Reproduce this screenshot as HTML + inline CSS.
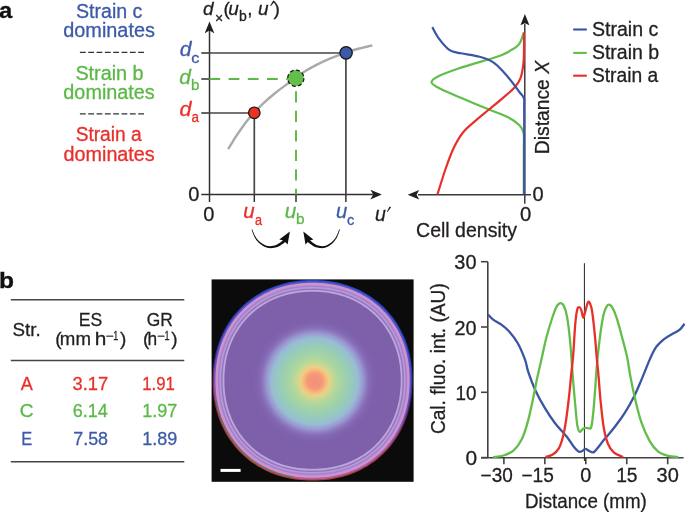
<!DOCTYPE html>
<html><head><meta charset="utf-8"><style>
html,body{margin:0;padding:0;background:#fff;}
svg{display:block;will-change:transform;}
text{font-family:"Liberation Sans",sans-serif;stroke-width:0.3px;}
</style></head><body>
<svg width="685" height="512" viewBox="0 0 685 512">
<rect width="685" height="512" fill="#fff"/>
<text x="-1.10" y="17.69" font-size="22" fill="#111" stroke="#111" font-weight="bold" textLength="13.25" lengthAdjust="spacingAndGlyphs">a</text>
<text x="75.91" y="17.81" font-size="19.5" fill="#3d5aa9" stroke="#3d5aa9" textLength="66.51" lengthAdjust="spacingAndGlyphs">Strain c</text>
<text x="63.27" y="36.71" font-size="19.5" fill="#3d5aa9" stroke="#3d5aa9" textLength="91.65" lengthAdjust="spacingAndGlyphs">dominates</text>
<text x="75.40" y="79.61" font-size="19.5" fill="#5cb847" stroke="#5cb847" textLength="68.23" lengthAdjust="spacingAndGlyphs">Strain b</text>
<text x="63.37" y="99.01" font-size="19.5" fill="#5cb847" stroke="#5cb847" textLength="91.35" lengthAdjust="spacingAndGlyphs">dominates</text>
<text x="75.63" y="141.41" font-size="19.5" fill="#e8302a" stroke="#e8302a" textLength="66.07" lengthAdjust="spacingAndGlyphs">Strain a</text>
<text x="63.57" y="160.81" font-size="19.5" fill="#e8302a" stroke="#e8302a" textLength="91.14" lengthAdjust="spacingAndGlyphs">dominates</text>
<line x1="79.9" y1="52.4" x2="144.2" y2="52.4" stroke="#333" stroke-width="1.4" stroke-dasharray="5.8 2.53"/>
<line x1="79.9" y1="113.9" x2="144.2" y2="113.9" stroke="#333" stroke-width="1.4" stroke-dasharray="5.8 2.53"/>
<path d="M228.20,149.20 C229.37,147.27 232.85,141.27 235.20,137.60 C237.55,133.93 240.12,130.27 242.30,127.20 C244.48,124.13 246.28,121.63 248.30,119.20 C250.32,116.77 251.95,115.20 254.40,112.60 C256.85,110.00 259.73,106.70 263.00,103.60 C266.27,100.50 270.33,97.00 274.00,94.00 C277.67,91.00 281.37,88.23 285.00,85.60 C288.63,82.97 292.72,80.43 295.80,78.20 C298.88,75.97 299.88,74.50 303.50,72.20 C307.12,69.90 313.02,66.70 317.50,64.40 C321.98,62.10 326.80,59.95 330.40,58.40 C334.00,56.85 336.50,56.03 339.10,55.10 C341.70,54.17 343.57,53.65 346.00,52.80 C348.43,51.95 350.85,50.87 353.70,50.00 C356.55,49.13 359.98,48.38 363.10,47.60 C366.22,46.82 370.85,45.68 372.40,45.30" fill="none" stroke="#a9a9a9" stroke-width="2.4"/>
<line x1="209.5" y1="194.6" x2="209.5" y2="30" stroke="#333031" stroke-width="1.5" />
<path d="M209.5,21.5 L214.3,33.3 L209.5,30.6 L204.7,33.3 Z" fill="#231f20"/>
<line x1="201.3" y1="194.6" x2="373" y2="194.6" stroke="#333031" stroke-width="1.5" />
<path d="M381.8,194.6 L370.4,189.7 L373.2,194.6 L370.4,199.5 Z" fill="#231f20"/>
<line x1="201.3" y1="53.0" x2="209.5" y2="53.0" stroke="#474545" stroke-width="1.7" />
<line x1="201.3" y1="113.0" x2="209.5" y2="113.0" stroke="#474545" stroke-width="1.7" />
<line x1="201.3" y1="79.0" x2="209.5" y2="79.0" stroke="#474545" stroke-width="1.7" />
<line x1="209.5" y1="194.6" x2="209.5" y2="202" stroke="#333031" stroke-width="1.5" />
<line x1="254.3" y1="194.6" x2="254.3" y2="202" stroke="#333031" stroke-width="1.5" />
<line x1="296" y1="194.6" x2="296" y2="202" stroke="#333031" stroke-width="1.5" />
<line x1="345.9" y1="194.6" x2="345.9" y2="202" stroke="#333031" stroke-width="1.5" />
<line x1="209.5" y1="53.0" x2="346" y2="53.0" stroke="#474545" stroke-width="1.7" />
<line x1="345.9" y1="52.9" x2="345.9" y2="194.6" stroke="#474545" stroke-width="1.7" />
<line x1="209.5" y1="113.0" x2="254.4" y2="113.0" stroke="#474545" stroke-width="1.7" />
<line x1="254.3" y1="112.8" x2="254.3" y2="194.6" stroke="#474545" stroke-width="1.7" />
<line x1="209.4" y1="79.0" x2="290" y2="79.0" stroke="#5cb847" stroke-width="1.9" stroke-dasharray="10.8 8.4"/>
<line x1="296" y1="91.3" x2="296" y2="194.6" stroke="#5cb847" stroke-width="1.9" stroke-dasharray="11.2 8.3"/>
<circle cx="346.1" cy="52.8" r="6.2" fill="#3d5aa9" stroke="#1a1a1a" stroke-width="1.3"/>
<circle cx="254.3" cy="112.8" r="5.75" fill="#eb3223" stroke="#1a1a1a" stroke-width="1.3"/>
<circle cx="295.8" cy="78.2" r="8.1" fill="#64be4b" stroke="#1a1a1a" stroke-width="1.3" stroke-dasharray="3.9 2.46"/>
<text x="179.79" y="56.40" font-size="19.5" fill="#3d5aa9" stroke="#3d5aa9" font-style="italic" textLength="11.75" lengthAdjust="spacingAndGlyphs">d</text>
<text x="191.31" y="62.76" font-size="14" fill="#3d5aa9" stroke="#3d5aa9" textLength="8.12" lengthAdjust="spacingAndGlyphs">c</text>
<text x="179.19" y="83.60" font-size="19.5" fill="#5cb847" stroke="#5cb847" font-style="italic" textLength="11.65" lengthAdjust="spacingAndGlyphs">d</text>
<text x="191.13" y="89.76" font-size="14" fill="#5cb847" stroke="#5cb847" textLength="8.41" lengthAdjust="spacingAndGlyphs">b</text>
<text x="179.58" y="115.80" font-size="19.5" fill="#e8302a" stroke="#e8302a" font-style="italic" textLength="11.96" lengthAdjust="spacingAndGlyphs">d</text>
<text x="191.43" y="122.16" font-size="14" fill="#e8302a" stroke="#e8302a" textLength="7.47" lengthAdjust="spacingAndGlyphs">a</text>
<text x="188.32" y="201.41" font-size="19.5" fill="#231f20" stroke="#231f20" textLength="11.17" lengthAdjust="spacingAndGlyphs">0</text>
<text x="202.9" y="14.6" font-size="19" fill="#231f20" stroke="#231f20" font-style="italic" >d</text>
<text x="215.1" y="22.5" font-size="14" fill="#231f20" stroke="#231f20" >×</text>
<text x="223.6" y="14.5" font-size="19" fill="#231f20" stroke="#231f20" >(</text>
<text x="228.2" y="14.6" font-size="19" fill="#231f20" stroke="#231f20" font-style="italic" >u</text>
<text x="239" y="21.2" font-size="14" fill="#231f20" stroke="#231f20" >b</text>
<text x="247.2" y="14.6" font-size="19" fill="#231f20" stroke="#231f20" >,</text>
<text x="257.9" y="14.6" font-size="19" fill="#231f20" stroke="#231f20" font-style="italic" >u</text>
<path d="M273.2,0.5 L274.9,1.2 L271.0,6.1 L270.2,5.8 Z" fill="#231f20"/>
<text x="273.6" y="14.6" font-size="19" fill="#231f20" stroke="#231f20" >)</text>
<text x="203.32" y="220.71" font-size="19.5" fill="#231f20" stroke="#231f20" textLength="11.17" lengthAdjust="spacingAndGlyphs">0</text>
<text x="243.34" y="217.92" font-size="19.5" fill="#e8302a" stroke="#e8302a" font-style="italic" textLength="11.37" lengthAdjust="spacingAndGlyphs">u</text>
<text x="254.96" y="224.76" font-size="14" fill="#e8302a" stroke="#e8302a" textLength="7.04" lengthAdjust="spacingAndGlyphs">a</text>
<text x="284.88" y="217.82" font-size="19.5" fill="#5cb847" stroke="#5cb847" font-style="italic" textLength="11.54" lengthAdjust="spacingAndGlyphs">u</text>
<text x="296.11" y="224.46" font-size="14" fill="#5cb847" stroke="#5cb847" textLength="8.53" lengthAdjust="spacingAndGlyphs">b</text>
<text x="336.05" y="217.92" font-size="19.5" fill="#3d5aa9" stroke="#3d5aa9" font-style="italic" textLength="11.25" lengthAdjust="spacingAndGlyphs">u</text>
<text x="347.08" y="224.76" font-size="14" fill="#3d5aa9" stroke="#3d5aa9" textLength="7.31" lengthAdjust="spacingAndGlyphs">c</text>
<text x="374.88" y="220.62" font-size="19.5" fill="#231f20" stroke="#231f20" font-style="italic">u</text>
<path d="M389.5,206.6 L391.1,207.3 L387.6,212.0 L386.9,211.7 Z" fill="#231f20"/>
<path d="M251.58,229.53 L251.72,229.93 L251.90,230.43 L252.10,231.03 L252.34,231.71 L252.60,232.44 L252.88,233.21 L253.18,234.01 L253.49,234.80 L253.81,235.58 L254.15,236.34 L254.49,237.04 L254.83,237.68 L255.18,238.26 L255.53,238.81 L255.88,239.35 L256.25,239.88 L256.63,240.38 L257.02,240.87 L257.43,241.35 L257.86,241.82 L258.30,242.27 L258.76,242.72 L259.24,243.15 L259.75,243.58 L260.27,244.00 L260.83,244.42 L261.40,244.84 L262.00,245.26 L262.62,245.66 L263.26,246.05 L263.91,246.42 L264.57,246.77 L265.24,247.08 L265.92,247.37 L266.61,247.61 L267.30,247.80 L268.00,247.95 L268.72,248.05 L269.45,248.11 L270.19,248.14 L270.92,248.13 L271.65,248.09 L272.37,248.03 L273.07,247.95 L273.76,247.85 L274.43,247.74 L275.07,247.61 L275.68,247.48 L276.29,247.33 L276.88,247.14 L277.44,246.93 L277.99,246.71 L278.51,246.46 L279.01,246.20 L279.50,245.94 L279.96,245.67 L280.42,245.39 L280.86,245.12 L281.29,244.86 L281.73,244.59 L282.19,244.29 L282.67,243.96 L283.15,243.61 L283.62,243.25 L284.08,242.89 L284.52,242.53 L284.94,242.19 L285.33,241.86 L285.68,241.57 L285.99,241.31 L286.26,241.10 L286.47,240.94 L284.53,238.66 L284.32,238.86 L284.05,239.11 L283.75,239.40 L283.42,239.71 L283.06,240.05 L282.68,240.41 L282.28,240.77 L281.88,241.13 L281.47,241.48 L281.06,241.82 L280.66,242.13 L280.27,242.41 L279.87,242.70 L279.45,242.99 L279.04,243.28 L278.64,243.56 L278.23,243.83 L277.81,244.10 L277.40,244.34 L276.97,244.58 L276.53,244.79 L276.08,244.99 L275.61,245.16 L275.12,245.32 L274.57,245.47 L273.99,245.61 L273.38,245.75 L272.76,245.87 L272.11,245.97 L271.46,246.06 L270.81,246.12 L270.16,246.16 L269.52,246.17 L268.89,246.15 L268.29,246.09 L267.70,246.00 L267.12,245.86 L266.52,245.68 L265.91,245.46 L265.30,245.21 L264.68,244.92 L264.07,244.61 L263.46,244.27 L262.86,243.92 L262.28,243.55 L261.72,243.18 L261.17,242.80 L260.65,242.42 L260.16,242.05 L259.69,241.67 L259.24,241.28 L258.81,240.88 L258.39,240.46 L257.99,240.04 L257.60,239.60 L257.21,239.14 L256.84,238.66 L256.48,238.17 L256.12,237.65 L255.77,237.12 L255.42,236.54 L255.07,235.89 L254.71,235.18 L254.37,234.43 L254.03,233.66 L253.71,232.89 L253.40,232.13 L253.11,231.42 L252.85,230.75 L252.61,230.16 L252.40,229.66 L252.22,229.27 Z" fill="#111"/>
<path d="M289.9,231.6 L279.3,239.5 L283.6,240.6 L287.6,244.5 Z" fill="#111"/>
<path d="M339.26,229.27 L339.09,229.67 L338.89,230.17 L338.67,230.76 L338.41,231.42 L338.14,232.14 L337.84,232.89 L337.53,233.66 L337.21,234.43 L336.88,235.19 L336.54,235.90 L336.21,236.55 L335.87,237.13 L335.54,237.66 L335.19,238.18 L334.84,238.67 L334.49,239.15 L334.12,239.61 L333.75,240.05 L333.36,240.48 L332.96,240.89 L332.55,241.29 L332.12,241.68 L331.67,242.06 L331.20,242.43 L330.70,242.81 L330.18,243.19 L329.64,243.56 L329.09,243.93 L328.52,244.28 L327.94,244.62 L327.35,244.93 L326.76,245.22 L326.18,245.47 L325.60,245.69 L325.03,245.87 L324.48,246.00 L323.93,246.09 L323.35,246.15 L322.76,246.17 L322.15,246.16 L321.53,246.12 L320.91,246.06 L320.30,245.97 L319.69,245.87 L319.09,245.75 L318.51,245.61 L317.96,245.47 L317.44,245.32 L316.97,245.17 L316.53,244.99 L316.10,244.80 L315.69,244.58 L315.29,244.35 L314.89,244.11 L314.50,243.85 L314.11,243.58 L313.72,243.30 L313.33,243.01 L312.94,242.71 L312.55,242.43 L312.18,242.14 L311.80,241.83 L311.42,241.50 L311.02,241.15 L310.64,240.79 L310.26,240.43 L309.90,240.07 L309.55,239.74 L309.24,239.42 L308.95,239.13 L308.70,238.88 L308.50,238.68 L306.51,240.92 L306.71,241.08 L306.96,241.29 L307.26,241.55 L307.60,241.84 L307.97,242.17 L308.37,242.51 L308.80,242.87 L309.24,243.23 L309.69,243.59 L310.14,243.94 L310.60,244.27 L311.05,244.57 L311.47,244.84 L311.88,245.11 L312.30,245.38 L312.74,245.65 L313.19,245.93 L313.65,246.19 L314.13,246.45 L314.64,246.70 L315.16,246.93 L315.70,247.14 L316.27,247.32 L316.85,247.48 L317.44,247.61 L318.06,247.73 L318.69,247.85 L319.35,247.95 L320.03,248.03 L320.72,248.09 L321.42,248.13 L322.13,248.14 L322.83,248.11 L323.53,248.05 L324.22,247.95 L324.90,247.80 L325.57,247.60 L326.23,247.36 L326.88,247.08 L327.52,246.76 L328.16,246.42 L328.78,246.05 L329.38,245.66 L329.98,245.25 L330.55,244.83 L331.10,244.41 L331.63,243.99 L332.13,243.57 L332.61,243.14 L333.07,242.71 L333.51,242.26 L333.93,241.81 L334.34,241.34 L334.73,240.86 L335.10,240.37 L335.46,239.86 L335.81,239.34 L336.15,238.80 L336.49,238.25 L336.81,237.67 L337.14,237.03 L337.47,236.33 L337.78,235.58 L338.09,234.79 L338.39,234.00 L338.68,233.21 L338.94,232.44 L339.19,231.70 L339.41,231.03 L339.61,230.43 L339.78,229.92 L339.92,229.53 Z" fill="#111"/>
<path d="M303.3,231.6 L313.4,239.5 L309.3,240.6 L305.5,244.5 Z" fill="#111"/>
<line x1="524.8" y1="203.7" x2="524.8" y2="24" stroke="#231f20" stroke-width="1.3" />
<path d="M524.9,14.0 L529.4,25.2 L524.9,23.2 L520.4,25.2 Z" fill="#231f20"/>
<line x1="531" y1="194.8" x2="418" y2="194.8" stroke="#3a3a3a" stroke-width="1.4" />
<path d="M407.7,194.8 L419.2,190 L416.6,194.8 L419.2,199.6 Z" fill="#231f20"/>
<path d="M523.60,33.00 C522.72,35.02 521.73,41.52 518.30,45.10 C514.87,48.68 507.88,52.15 503.00,54.50 C498.12,56.85 496.42,56.87 489.00,59.20 C481.58,61.53 467.08,65.58 458.50,68.50 C449.92,71.42 441.98,74.35 437.50,76.70 C433.02,79.05 431.22,80.63 431.60,82.60 C431.98,84.57 434.92,85.97 439.80,88.50 C444.68,91.03 452.70,94.30 460.90,97.80 C469.10,101.30 481.20,106.30 489.00,109.50 C496.80,112.70 502.63,114.38 507.70,117.00 C512.77,119.62 516.75,122.53 519.40,125.20 C522.05,127.87 522.87,128.87 523.60,133.00 C524.33,137.13 523.77,139.83 523.80,150.00 C523.83,160.17 523.80,186.67 523.80,194.00" fill="none" stroke="#62bd4b" stroke-width="2.2"/>
<path d="M524.00,32.20 C524.00,35.17 524.10,44.72 524.00,50.00 C523.90,55.28 523.97,59.25 523.40,63.90 C522.83,68.55 522.03,74.00 520.60,77.90 C519.17,81.80 517.73,83.98 514.80,87.30 C511.87,90.62 507.30,94.10 503.00,97.80 C498.70,101.50 493.28,105.93 489.00,109.50 C484.72,113.07 481.60,115.42 477.30,119.20 C473.00,122.98 467.10,127.48 463.20,132.20 C459.30,136.92 456.82,141.45 453.90,147.50 C450.98,153.55 448.43,160.70 445.70,168.50 C442.97,176.30 438.87,190.00 437.50,194.30" fill="none" stroke="#e8302a" stroke-width="2.2"/>
<path d="M432.30,27.10 C433.35,28.93 435.78,34.32 438.60,38.10 C441.42,41.88 445.48,47.27 449.20,49.80 C452.92,52.33 455.83,52.13 460.90,53.30 C465.97,54.47 474.13,55.23 479.60,56.80 C485.07,58.37 489.02,59.38 493.70,62.70 C498.38,66.02 503.42,71.82 507.70,76.70 C511.98,81.58 516.70,88.37 519.40,92.00 C522.10,95.63 523.10,95.50 523.90,98.50 C524.70,101.50 524.15,94.08 524.20,110.00 C524.25,125.92 524.20,180.00 524.20,194.00" fill="none" stroke="#3a55a4" stroke-width="2.2"/>
<text x="532.42" y="201.41" font-size="19.5" fill="#231f20" stroke="#231f20" textLength="11.17" lengthAdjust="spacingAndGlyphs">0</text>
<text x="520.11" y="220.51" font-size="19.5" fill="#231f20" stroke="#231f20" textLength="11.29" lengthAdjust="spacingAndGlyphs">0</text>
<text x="416.11" y="237.10" font-size="19.5" fill="#231f20" stroke="#231f20">Cell density</text>
<text x="0" y="0" font-size="19.5" fill="#231f20" stroke="#231f20" transform="translate(548.8,154.18) rotate(-90) scale(0.9893,1)">Distance <tspan font-style="italic">X</tspan></text>
<line x1="573.2" y1="29.5" x2="586.8" y2="29.5" stroke="#3a55a4" stroke-width="2.1" />
<text x="591.91" y="36.31" font-size="19.5" fill="#231f20" stroke="#231f20" textLength="66.41" lengthAdjust="spacingAndGlyphs">Strain c</text>
<line x1="573.2" y1="52.9" x2="586.8" y2="52.9" stroke="#62bd4b" stroke-width="2.1" />
<text x="591.91" y="59.41" font-size="19.5" fill="#231f20" stroke="#231f20">Strain b</text>
<line x1="573.2" y1="75.7" x2="586.8" y2="75.7" stroke="#e8302a" stroke-width="2.1" />
<text x="591.93" y="82.41" font-size="19.5" fill="#231f20" stroke="#231f20" textLength="66.27" lengthAdjust="spacingAndGlyphs">Strain a</text>
<text x="-0.92" y="288.19" font-size="22" fill="#111" stroke="#111" font-weight="bold" textLength="15.03" lengthAdjust="spacingAndGlyphs">b</text>
<line x1="10.8" y1="299.8" x2="184.3" y2="299.8" stroke="#444" stroke-width="1.5" />
<line x1="10.8" y1="360.6" x2="184.3" y2="360.6" stroke="#444" stroke-width="1.5" />
<line x1="10.8" y1="461.8" x2="184.3" y2="461.8" stroke="#444" stroke-width="1.5" />
<text x="12.48" y="335.91" font-size="19" fill="#231f20" stroke="#231f20" textLength="28.18" lengthAdjust="spacingAndGlyphs">Str.</text>
<text x="78.65" y="326.41" font-size="19" fill="#231f20" stroke="#231f20" textLength="23.56" lengthAdjust="spacingAndGlyphs">ES</text>
<text x="146.63" y="326.31" font-size="19" fill="#231f20" stroke="#231f20" textLength="26.08" lengthAdjust="spacingAndGlyphs">GR</text>
<text x="55.22" y="345.40" font-size="19" fill="#231f20" stroke="#231f20">(</text>
<text x="59.86" y="345.40" font-size="19" fill="#231f20" stroke="#231f20" textLength="31.07" lengthAdjust="spacingAndGlyphs">mm</text>
<text x="94.65" y="345.40" font-size="19" fill="#231f20" stroke="#231f20" textLength="11.60" lengthAdjust="spacingAndGlyphs">h</text>
<text x="105.62" y="339.90" font-size="12" fill="#231f20" stroke="#231f20" textLength="8.05" lengthAdjust="spacingAndGlyphs">−</text>
<text x="113.31" y="340.10" font-size="12.5" fill="#231f20" stroke="#231f20" textLength="5.03" lengthAdjust="spacingAndGlyphs">1</text>
<text x="119.89" y="345.40" font-size="19" fill="#231f20" stroke="#231f20">)</text>
<text x="143.12" y="345.20" font-size="19" fill="#231f20" stroke="#231f20">(</text>
<text x="147.50" y="345.20" font-size="19" fill="#231f20" stroke="#231f20" textLength="9.62" lengthAdjust="spacingAndGlyphs">h</text>
<text x="157.05" y="340.30" font-size="12" fill="#231f20" stroke="#231f20" textLength="7.69" lengthAdjust="spacingAndGlyphs">−</text>
<text x="164.61" y="340.10" font-size="12.5" fill="#231f20" stroke="#231f20" textLength="5.03" lengthAdjust="spacingAndGlyphs">1</text>
<text x="171.29" y="345.20" font-size="19" fill="#231f20" stroke="#231f20">)</text>
<text x="20.66" y="390.20" font-size="19" fill="#e8302a" stroke="#e8302a" textLength="12.07" lengthAdjust="spacingAndGlyphs">A</text>
<text x="72.50" y="390.01" font-size="19" fill="#e8302a" stroke="#e8302a" textLength="35.72" lengthAdjust="spacingAndGlyphs">3.17</text>
<text x="142.32" y="390.21" font-size="19" fill="#e8302a" stroke="#e8302a" textLength="32.59" lengthAdjust="spacingAndGlyphs">1.91</text>
<text x="19.74" y="417.41" font-size="19" fill="#5cb847" stroke="#5cb847">C</text>
<text x="72.68" y="417.41" font-size="19" fill="#5cb847" stroke="#5cb847" textLength="35.15" lengthAdjust="spacingAndGlyphs">6.14</text>
<text x="142.23" y="417.21" font-size="19" fill="#5cb847" stroke="#5cb847" textLength="35.08" lengthAdjust="spacingAndGlyphs">1.97</text>
<text x="21.25" y="444.80" font-size="19" fill="#3d5aa9" stroke="#3d5aa9" textLength="10.95" lengthAdjust="spacingAndGlyphs">E</text>
<text x="73.18" y="444.61" font-size="19" fill="#3d5aa9" stroke="#3d5aa9" textLength="34.90" lengthAdjust="spacingAndGlyphs">7.58</text>
<text x="142.23" y="444.61" font-size="19" fill="#3d5aa9" stroke="#3d5aa9" textLength="35.02" lengthAdjust="spacingAndGlyphs">1.89</text>
<defs>
<radialGradient id="rim" cx="312.6" cy="380.4" r="100.2" gradientUnits="userSpaceOnUse">
<stop offset="0" stop-color="#7d5faa"/>
<stop offset="0.6" stop-color="#7c5eab"/>
<stop offset="0.88" stop-color="#7e60ad"/>
<stop offset="0.897" stop-color="#a084c8"/>
<stop offset="0.912" stop-color="#b89cd8"/>
<stop offset="0.93" stop-color="#a284cc"/>
<stop offset="0.95" stop-color="#9878c2"/>
<stop offset="0.966" stop-color="#c47ccb"/>
<stop offset="0.98" stop-color="#bc6ec6"/>
<stop offset="0.99" stop-color="#5c4cb6"/>
<stop offset="1" stop-color="#20206a"/>
</radialGradient>
<radialGradient id="spot" cx="314.8" cy="381.3" r="64" gradientUnits="userSpaceOnUse">
<stop offset="0" stop-color="#f29279"/>
<stop offset="0.112" stop-color="#f3967a"/>
<stop offset="0.178" stop-color="#f8b878"/>
<stop offset="0.225" stop-color="#ead08a"/>
<stop offset="0.28" stop-color="#c8d890"/>
<stop offset="0.375" stop-color="#aad6a0"/>
<stop offset="0.50" stop-color="#9ccfae"/>
<stop offset="0.57" stop-color="#96cbbc"/>
<stop offset="0.68" stop-color="#98bcd4"/>
<stop offset="0.76" stop-color="#9c9cd4" stop-opacity="0.9"/>
<stop offset="0.86" stop-color="#8e76c0" stop-opacity="0.45"/>
<stop offset="1" stop-color="#7d5faa" stop-opacity="0"/>
</radialGradient>
</defs>
<rect x="211.6" y="279.4" width="202" height="202.4" fill="#0b0b0b"/>
<defs>
<linearGradient id="edgeg" x1="335" y1="280" x2="290" y2="481" gradientUnits="userSpaceOnUse">
<stop offset="0" stop-color="#2a44c4"/><stop offset="0.35" stop-color="#2a36a8"/><stop offset="0.5" stop-color="#3a2a70"/><stop offset="0.62" stop-color="#7a2a4a"/><stop offset="0.8" stop-color="#a83a30"/><stop offset="1" stop-color="#b04028"/>
</linearGradient>
<linearGradient id="edge2" x1="335" y1="280" x2="290" y2="481" gradientUnits="userSpaceOnUse">
<stop offset="0" stop-color="#4a58c8"/><stop offset="0.5" stop-color="#6050c0"/><stop offset="0.75" stop-color="#a05cb0"/><stop offset="1" stop-color="#b060a8"/>
</linearGradient>
<filter id="soft" x="-5%" y="-5%" width="110%" height="110%"><feGaussianBlur stdDeviation="0.7"/></filter>
</defs>
<g filter="url(#soft)">
<path d="M412.50,380.30 L412.44,384.53 L412.27,388.43 L411.98,392.21 L411.58,395.91 L411.07,399.53 L410.44,403.09 L409.70,406.59 L408.84,410.04 L407.88,413.42 L406.80,416.75 L405.62,420.02 L404.33,423.23 L402.93,426.37 L401.42,429.45 L399.82,432.46 L398.11,435.40 L396.30,438.26 L394.39,441.06 L392.38,443.77 L390.28,446.40 L388.09,448.96 L385.80,451.43 L383.43,453.81 L380.97,456.10 L378.42,458.30 L375.80,460.41 L373.09,462.42 L370.31,464.34 L367.45,466.16 L364.52,467.87 L361.53,469.49 L358.46,471.00 L355.33,472.40 L352.13,473.70 L348.88,474.88 L345.56,475.96 L342.18,476.93 L338.75,477.79 L335.26,478.53 L331.71,479.16 L328.10,479.68 L324.42,480.08 L320.66,480.37 L316.77,480.54 L312.55,480.60 L308.33,480.54 L304.44,480.37 L300.68,480.08 L297.00,479.68 L293.39,479.16 L289.84,478.53 L286.35,477.79 L282.92,476.93 L279.54,475.96 L276.22,474.88 L272.97,473.70 L269.77,472.40 L266.64,471.00 L263.57,469.49 L260.58,467.87 L257.65,466.16 L254.79,464.34 L252.01,462.42 L249.30,460.41 L246.68,458.30 L244.13,456.10 L241.67,453.81 L239.30,451.43 L237.01,448.96 L234.82,446.40 L232.72,443.77 L230.71,441.06 L228.80,438.26 L226.99,435.40 L225.28,432.46 L223.68,429.45 L222.17,426.37 L220.77,423.23 L219.48,420.02 L218.30,416.75 L217.22,413.42 L216.26,410.04 L215.40,406.59 L214.66,403.09 L214.03,399.53 L213.52,395.91 L213.12,392.21 L212.83,388.43 L212.66,384.53 L212.60,380.30 L212.66,376.07 L212.83,372.17 L213.12,368.39 L213.52,364.69 L214.03,361.07 L214.66,357.51 L215.40,354.01 L216.26,350.56 L217.22,347.18 L218.30,343.85 L219.48,340.58 L220.77,337.37 L222.17,334.23 L223.68,331.15 L225.28,328.14 L226.99,325.20 L228.80,322.34 L230.71,319.54 L232.72,316.83 L234.82,314.20 L237.01,311.64 L239.30,309.17 L241.67,306.79 L244.13,304.50 L246.68,302.30 L249.30,300.19 L252.01,298.18 L254.79,296.26 L257.65,294.44 L260.58,292.73 L263.57,291.11 L266.64,289.60 L269.77,288.20 L272.97,286.90 L276.22,285.72 L279.54,284.64 L282.92,283.67 L286.35,282.81 L289.84,282.07 L293.39,281.44 L297.00,280.92 L300.68,280.52 L304.44,280.23 L308.33,280.06 L312.55,280.00 L316.77,280.06 L320.66,280.23 L324.42,280.52 L328.10,280.92 L331.71,281.44 L335.26,282.07 L338.75,282.81 L342.18,283.67 L345.56,284.64 L348.88,285.72 L352.13,286.90 L355.33,288.20 L358.46,289.60 L361.53,291.11 L364.52,292.73 L367.45,294.44 L370.31,296.26 L373.09,298.18 L375.80,300.19 L378.42,302.30 L380.97,304.50 L383.43,306.79 L385.80,309.17 L388.09,311.64 L390.28,314.20 L392.38,316.83 L394.39,319.54 L396.30,322.34 L398.11,325.20 L399.82,328.14 L401.42,331.15 L402.93,334.23 L404.33,337.37 L405.62,340.58 L406.80,343.85 L407.88,347.18 L408.84,350.56 L409.70,354.01 L410.44,357.51 L411.07,361.07 L411.58,364.69 L411.98,368.39 L412.27,372.17 L412.44,376.07 Z" fill="url(#edgeg)"/>
<path d="M411.30,380.30 L411.24,384.48 L411.07,388.34 L410.79,392.07 L410.39,395.72 L409.88,399.30 L409.26,402.82 L408.53,406.28 L407.69,409.68 L406.73,413.03 L405.67,416.32 L404.50,419.55 L403.23,422.71 L401.84,425.82 L400.36,428.86 L398.77,431.83 L397.08,434.74 L395.29,437.57 L393.40,440.33 L391.42,443.01 L389.35,445.61 L387.18,448.14 L384.92,450.58 L382.58,452.93 L380.15,455.19 L377.63,457.37 L375.04,459.45 L372.37,461.44 L369.62,463.33 L366.79,465.13 L363.90,466.82 L360.94,468.42 L357.91,469.91 L354.81,471.30 L351.66,472.58 L348.44,473.75 L345.16,474.82 L341.83,475.77 L338.44,476.62 L334.99,477.36 L331.48,477.98 L327.92,478.49 L324.28,478.89 L320.56,479.17 L316.72,479.34 L312.55,479.40 L308.38,479.34 L304.54,479.17 L300.82,478.89 L297.18,478.49 L293.62,477.98 L290.11,477.36 L286.66,476.62 L283.27,475.77 L279.94,474.82 L276.66,473.75 L273.44,472.58 L270.29,471.30 L267.19,469.91 L264.16,468.42 L261.20,466.82 L258.31,465.13 L255.48,463.33 L252.73,461.44 L250.06,459.45 L247.47,457.37 L244.95,455.19 L242.52,452.93 L240.18,450.58 L237.92,448.14 L235.75,445.61 L233.68,443.01 L231.70,440.33 L229.81,437.57 L228.02,434.74 L226.33,431.83 L224.74,428.86 L223.26,425.82 L221.87,422.71 L220.60,419.55 L219.43,416.32 L218.37,413.03 L217.41,409.68 L216.57,406.28 L215.84,402.82 L215.22,399.30 L214.71,395.72 L214.31,392.07 L214.03,388.34 L213.86,384.48 L213.80,380.30 L213.86,376.12 L214.03,372.26 L214.31,368.53 L214.71,364.88 L215.22,361.30 L215.84,357.78 L216.57,354.32 L217.41,350.92 L218.37,347.57 L219.43,344.28 L220.60,341.05 L221.87,337.89 L223.26,334.78 L224.74,331.74 L226.33,328.77 L228.02,325.86 L229.81,323.03 L231.70,320.27 L233.68,317.59 L235.75,314.99 L237.92,312.46 L240.18,310.02 L242.52,307.67 L244.95,305.41 L247.47,303.23 L250.06,301.15 L252.73,299.16 L255.48,297.27 L258.31,295.47 L261.20,293.78 L264.16,292.18 L267.19,290.69 L270.29,289.30 L273.44,288.02 L276.66,286.85 L279.94,285.78 L283.27,284.83 L286.66,283.98 L290.11,283.24 L293.62,282.62 L297.18,282.11 L300.82,281.71 L304.54,281.43 L308.38,281.26 L312.55,281.20 L316.72,281.26 L320.56,281.43 L324.28,281.71 L327.92,282.11 L331.48,282.62 L334.99,283.24 L338.44,283.98 L341.83,284.83 L345.16,285.78 L348.44,286.85 L351.66,288.02 L354.81,289.30 L357.91,290.69 L360.94,292.18 L363.90,293.78 L366.79,295.47 L369.62,297.27 L372.37,299.16 L375.04,301.15 L377.63,303.23 L380.15,305.41 L382.58,307.67 L384.92,310.02 L387.18,312.46 L389.35,314.99 L391.42,317.59 L393.40,320.27 L395.29,323.03 L397.08,325.86 L398.77,328.77 L400.36,331.74 L401.84,334.78 L403.23,337.89 L404.50,341.05 L405.67,344.28 L406.73,347.57 L407.69,350.92 L408.53,354.32 L409.26,357.78 L409.88,361.30 L410.39,364.88 L410.79,368.53 L411.07,372.26 L411.24,376.12 Z" fill="url(#edge2)"/>
<path d="M409.70,380.30 L409.64,384.41 L409.48,388.21 L409.20,391.88 L408.81,395.47 L408.31,398.99 L407.70,402.46 L406.98,405.86 L406.15,409.21 L405.21,412.50 L404.16,415.73 L403.01,418.91 L401.76,422.03 L400.40,425.08 L398.93,428.08 L397.37,431.00 L395.71,433.86 L393.95,436.64 L392.09,439.36 L390.14,442.00 L388.10,444.56 L385.97,447.04 L383.75,449.44 L381.44,451.76 L379.05,453.98 L376.58,456.12 L374.03,458.17 L371.40,460.13 L368.69,461.99 L365.92,463.76 L363.07,465.43 L360.15,467.00 L357.17,468.46 L354.13,469.83 L351.02,471.09 L347.86,472.24 L344.63,473.29 L341.35,474.23 L338.02,475.07 L334.63,475.79 L331.18,476.40 L327.67,476.90 L324.09,477.30 L320.43,477.58 L316.65,477.74 L312.55,477.80 L308.45,477.74 L304.67,477.58 L301.01,477.30 L297.43,476.90 L293.92,476.40 L290.47,475.79 L287.08,475.07 L283.75,474.23 L280.47,473.29 L277.24,472.24 L274.08,471.09 L270.97,469.83 L267.93,468.46 L264.95,467.00 L262.03,465.43 L259.18,463.76 L256.41,461.99 L253.70,460.13 L251.07,458.17 L248.52,456.12 L246.05,453.98 L243.66,451.76 L241.35,449.44 L239.13,447.04 L237.00,444.56 L234.96,442.00 L233.01,439.36 L231.15,436.64 L229.39,433.86 L227.73,431.00 L226.17,428.08 L224.70,425.08 L223.34,422.03 L222.09,418.91 L220.94,415.73 L219.89,412.50 L218.95,409.21 L218.12,405.86 L217.40,402.46 L216.79,398.99 L216.29,395.47 L215.90,391.88 L215.62,388.21 L215.46,384.41 L215.40,380.30 L215.46,376.19 L215.62,372.39 L215.90,368.72 L216.29,365.13 L216.79,361.61 L217.40,358.14 L218.12,354.74 L218.95,351.39 L219.89,348.10 L220.94,344.87 L222.09,341.69 L223.34,338.57 L224.70,335.52 L226.17,332.52 L227.73,329.60 L229.39,326.74 L231.15,323.96 L233.01,321.24 L234.96,318.60 L237.00,316.04 L239.13,313.56 L241.35,311.16 L243.66,308.84 L246.05,306.62 L248.52,304.48 L251.07,302.43 L253.70,300.47 L256.41,298.61 L259.18,296.84 L262.03,295.17 L264.95,293.60 L267.93,292.14 L270.97,290.77 L274.08,289.51 L277.24,288.36 L280.47,287.31 L283.75,286.37 L287.08,285.53 L290.47,284.81 L293.92,284.20 L297.43,283.70 L301.01,283.30 L304.67,283.02 L308.45,282.86 L312.55,282.80 L316.65,282.86 L320.43,283.02 L324.09,283.30 L327.67,283.70 L331.18,284.20 L334.63,284.81 L338.02,285.53 L341.35,286.37 L344.63,287.31 L347.86,288.36 L351.02,289.51 L354.13,290.77 L357.17,292.14 L360.15,293.60 L363.07,295.17 L365.92,296.84 L368.69,298.61 L371.40,300.47 L374.03,302.43 L376.58,304.48 L379.05,306.62 L381.44,308.84 L383.75,311.16 L385.97,313.56 L388.10,316.04 L390.14,318.60 L392.09,321.24 L393.95,323.96 L395.71,326.74 L397.37,329.60 L398.93,332.52 L400.40,335.52 L401.76,338.57 L403.01,341.69 L404.16,344.87 L405.21,348.10 L406.15,351.39 L406.98,354.74 L407.70,358.14 L408.31,361.61 L408.81,365.13 L409.20,368.72 L409.48,372.39 L409.64,376.19 Z" fill="#cc92d2"/>
<path d="M407.10,380.30 L407.05,384.30 L406.88,388.00 L406.61,391.57 L406.23,395.07 L405.74,398.50 L405.15,401.87 L404.45,405.18 L403.64,408.44 L402.73,411.64 L401.71,414.79 L400.59,417.88 L399.37,420.92 L398.05,423.89 L396.62,426.80 L395.10,429.65 L393.48,432.43 L391.77,435.14 L389.97,437.78 L388.07,440.35 L386.08,442.85 L384.01,445.26 L381.84,447.60 L379.60,449.85 L377.27,452.02 L374.87,454.10 L372.38,456.10 L369.82,458.00 L367.19,459.82 L364.49,461.53 L361.72,463.16 L358.88,464.68 L355.98,466.11 L353.02,467.44 L349.99,468.67 L346.91,469.79 L343.78,470.81 L340.58,471.73 L337.34,472.54 L334.04,473.24 L330.68,473.84 L327.26,474.33 L323.78,474.71 L320.22,474.98 L316.54,475.15 L312.55,475.20 L308.56,475.15 L304.88,474.98 L301.32,474.71 L297.84,474.33 L294.42,473.84 L291.06,473.24 L287.76,472.54 L284.52,471.73 L281.32,470.81 L278.19,469.79 L275.11,468.67 L272.08,467.44 L269.12,466.11 L266.22,464.68 L263.38,463.16 L260.61,461.53 L257.91,459.82 L255.28,458.00 L252.72,456.10 L250.23,454.10 L247.83,452.02 L245.50,449.85 L243.26,447.60 L241.09,445.26 L239.02,442.85 L237.03,440.35 L235.13,437.78 L233.33,435.14 L231.62,432.43 L230.00,429.65 L228.48,426.80 L227.05,423.89 L225.73,420.92 L224.51,417.88 L223.39,414.79 L222.37,411.64 L221.46,408.44 L220.65,405.18 L219.95,401.87 L219.36,398.50 L218.87,395.07 L218.49,391.57 L218.22,388.00 L218.05,384.30 L218.00,380.30 L218.05,376.30 L218.22,372.60 L218.49,369.03 L218.87,365.53 L219.36,362.10 L219.95,358.73 L220.65,355.42 L221.46,352.16 L222.37,348.96 L223.39,345.81 L224.51,342.72 L225.73,339.68 L227.05,336.71 L228.48,333.80 L230.00,330.95 L231.62,328.17 L233.33,325.46 L235.13,322.82 L237.03,320.25 L239.02,317.75 L241.09,315.34 L243.26,313.00 L245.50,310.75 L247.83,308.58 L250.23,306.50 L252.72,304.50 L255.28,302.60 L257.91,300.78 L260.61,299.07 L263.38,297.44 L266.22,295.92 L269.12,294.49 L272.08,293.16 L275.11,291.93 L278.19,290.81 L281.32,289.79 L284.52,288.87 L287.76,288.06 L291.06,287.36 L294.42,286.76 L297.84,286.27 L301.32,285.89 L304.88,285.62 L308.56,285.45 L312.55,285.40 L316.54,285.45 L320.22,285.62 L323.78,285.89 L327.26,286.27 L330.68,286.76 L334.04,287.36 L337.34,288.06 L340.58,288.87 L343.78,289.79 L346.91,290.81 L349.99,291.93 L353.02,293.16 L355.98,294.49 L358.88,295.92 L361.72,297.44 L364.49,299.07 L367.19,300.78 L369.82,302.60 L372.38,304.50 L374.87,306.50 L377.27,308.58 L379.60,310.75 L381.84,313.00 L384.01,315.34 L386.08,317.75 L388.07,320.25 L389.97,322.82 L391.77,325.46 L393.48,328.17 L395.10,330.95 L396.62,333.80 L398.05,336.71 L399.37,339.68 L400.59,342.72 L401.71,345.81 L402.73,348.96 L403.64,352.16 L404.45,355.42 L405.15,358.73 L405.74,362.10 L406.23,365.53 L406.61,369.03 L406.88,372.60 L407.05,376.30 Z" fill="#a682c8"/>
<path d="M405.50,380.30 L405.45,384.24 L405.29,387.87 L405.02,391.38 L404.65,394.82 L404.17,398.19 L403.58,401.50 L402.89,404.76 L402.10,407.96 L401.20,411.11 L400.20,414.21 L399.10,417.25 L397.90,420.23 L396.60,423.15 L395.20,426.02 L393.71,428.82 L392.11,431.55 L390.43,434.22 L388.66,436.81 L386.79,439.34 L384.84,441.79 L382.80,444.17 L380.67,446.46 L378.46,448.68 L376.18,450.81 L373.81,452.86 L371.37,454.82 L368.85,456.69 L366.27,458.47 L363.61,460.16 L360.88,461.76 L358.10,463.26 L355.24,464.67 L352.33,465.97 L349.36,467.18 L346.33,468.28 L343.25,469.29 L340.11,470.19 L336.92,470.98 L333.67,471.68 L330.37,472.26 L327.01,472.74 L323.59,473.12 L320.09,473.39 L316.47,473.55 L312.55,473.60 L308.63,473.55 L305.01,473.39 L301.51,473.12 L298.09,472.74 L294.73,472.26 L291.43,471.68 L288.18,470.98 L284.99,470.19 L281.85,469.29 L278.77,468.28 L275.74,467.18 L272.77,465.97 L269.86,464.67 L267.00,463.26 L264.22,461.76 L261.49,460.16 L258.83,458.47 L256.25,456.69 L253.73,454.82 L251.29,452.86 L248.92,450.81 L246.64,448.68 L244.43,446.46 L242.30,444.17 L240.26,441.79 L238.31,439.34 L236.44,436.81 L234.67,434.22 L232.99,431.55 L231.39,428.82 L229.90,426.02 L228.50,423.15 L227.20,420.23 L226.00,417.25 L224.90,414.21 L223.90,411.11 L223.00,407.96 L222.21,404.76 L221.52,401.50 L220.93,398.19 L220.45,394.82 L220.08,391.38 L219.81,387.87 L219.65,384.24 L219.60,380.30 L219.65,376.36 L219.81,372.73 L220.08,369.22 L220.45,365.78 L220.93,362.41 L221.52,359.10 L222.21,355.84 L223.00,352.64 L223.90,349.49 L224.90,346.39 L226.00,343.35 L227.20,340.37 L228.50,337.45 L229.90,334.58 L231.39,331.78 L232.99,329.05 L234.67,326.38 L236.44,323.79 L238.31,321.26 L240.26,318.81 L242.30,316.43 L244.43,314.14 L246.64,311.92 L248.92,309.79 L251.29,307.74 L253.73,305.78 L256.25,303.91 L258.83,302.13 L261.49,300.44 L264.22,298.84 L267.00,297.34 L269.86,295.93 L272.77,294.63 L275.74,293.42 L278.77,292.32 L281.85,291.31 L284.99,290.41 L288.18,289.62 L291.43,288.92 L294.73,288.34 L298.09,287.86 L301.51,287.48 L305.01,287.21 L308.63,287.05 L312.55,287.00 L316.47,287.05 L320.09,287.21 L323.59,287.48 L327.01,287.86 L330.37,288.34 L333.67,288.92 L336.92,289.62 L340.11,290.41 L343.25,291.31 L346.33,292.32 L349.36,293.42 L352.33,294.63 L355.24,295.93 L358.10,297.34 L360.88,298.84 L363.61,300.44 L366.27,302.13 L368.85,303.91 L371.37,305.78 L373.81,307.74 L376.18,309.79 L378.46,311.92 L380.67,314.14 L382.80,316.43 L384.84,318.81 L386.79,321.26 L388.66,323.79 L390.43,326.38 L392.11,329.05 L393.71,331.78 L395.20,334.58 L396.60,337.45 L397.90,340.37 L399.10,343.35 L400.20,346.39 L401.20,349.49 L402.10,352.64 L402.89,355.84 L403.58,359.10 L404.17,362.41 L404.65,365.78 L405.02,369.22 L405.29,372.73 L405.45,376.36 Z" fill="#b69ad8"/>
<path d="M403.90,380.30 L403.85,384.17 L403.69,387.74 L403.43,391.19 L403.06,394.57 L402.59,397.88 L402.02,401.14 L401.34,404.34 L400.56,407.49 L399.68,410.58 L398.69,413.63 L397.61,416.61 L396.43,419.55 L395.15,422.42 L393.78,425.23 L392.31,427.98 L390.75,430.67 L389.09,433.29 L387.35,435.85 L385.51,438.33 L383.59,440.74 L381.59,443.07 L379.50,445.33 L377.33,447.50 L375.08,449.60 L372.76,451.61 L370.36,453.54 L367.88,455.38 L365.34,457.13 L362.73,458.79 L360.05,460.36 L357.31,461.84 L354.51,463.22 L351.65,464.50 L348.73,465.69 L345.75,466.77 L342.72,467.76 L339.63,468.65 L336.50,469.43 L333.31,470.11 L330.07,470.69 L326.76,471.16 L323.40,471.53 L319.96,471.79 L316.40,471.95 L312.55,472.00 L308.70,471.95 L305.14,471.79 L301.70,471.53 L298.34,471.16 L295.03,470.69 L291.79,470.11 L288.60,469.43 L285.47,468.65 L282.38,467.76 L279.35,466.77 L276.37,465.69 L273.45,464.50 L270.59,463.22 L267.79,461.84 L265.05,460.36 L262.37,458.79 L259.76,457.13 L257.22,455.38 L254.74,453.54 L252.34,451.61 L250.02,449.60 L247.77,447.50 L245.60,445.33 L243.51,443.07 L241.51,440.74 L239.59,438.33 L237.75,435.85 L236.01,433.29 L234.35,430.67 L232.79,427.98 L231.32,425.23 L229.95,422.42 L228.67,419.55 L227.49,416.61 L226.41,413.63 L225.42,410.58 L224.54,407.49 L223.76,404.34 L223.08,401.14 L222.51,397.88 L222.04,394.57 L221.67,391.19 L221.41,387.74 L221.25,384.17 L221.20,380.30 L221.25,376.43 L221.41,372.86 L221.67,369.41 L222.04,366.03 L222.51,362.72 L223.08,359.46 L223.76,356.26 L224.54,353.11 L225.42,350.02 L226.41,346.97 L227.49,343.99 L228.67,341.05 L229.95,338.18 L231.32,335.37 L232.79,332.62 L234.35,329.93 L236.01,327.31 L237.75,324.75 L239.59,322.27 L241.51,319.86 L243.51,317.53 L245.60,315.27 L247.77,313.10 L250.02,311.00 L252.34,308.99 L254.74,307.06 L257.22,305.22 L259.76,303.47 L262.37,301.81 L265.05,300.24 L267.79,298.76 L270.59,297.38 L273.45,296.10 L276.37,294.91 L279.35,293.83 L282.38,292.84 L285.47,291.95 L288.60,291.17 L291.79,290.49 L295.03,289.91 L298.34,289.44 L301.70,289.07 L305.14,288.81 L308.70,288.65 L312.55,288.60 L316.40,288.65 L319.96,288.81 L323.40,289.07 L326.76,289.44 L330.07,289.91 L333.31,290.49 L336.50,291.17 L339.63,291.95 L342.72,292.84 L345.75,293.83 L348.73,294.91 L351.65,296.10 L354.51,297.38 L357.31,298.76 L360.05,300.24 L362.73,301.81 L365.34,303.47 L367.88,305.22 L370.36,307.06 L372.76,308.99 L375.08,311.00 L377.33,313.10 L379.50,315.27 L381.59,317.53 L383.59,319.86 L385.51,322.27 L387.35,324.75 L389.09,327.31 L390.75,329.93 L392.31,332.62 L393.78,335.37 L395.15,338.18 L396.43,341.05 L397.61,343.99 L398.69,346.97 L399.68,350.02 L400.56,353.11 L401.34,356.26 L402.02,359.46 L402.59,362.72 L403.06,366.03 L403.43,369.41 L403.69,372.86 L403.85,376.43 Z" fill="#9474c0"/>
<path d="M402.50,380.30 L402.45,384.11 L402.29,387.62 L402.04,391.03 L401.67,394.35 L401.21,397.61 L400.64,400.82 L399.98,403.97 L399.21,407.07 L398.34,410.12 L397.37,413.12 L396.31,416.06 L395.15,418.95 L393.89,421.78 L392.53,424.55 L391.09,427.26 L389.55,429.90 L387.92,432.48 L386.20,435.00 L384.39,437.44 L382.50,439.81 L380.53,442.11 L378.47,444.33 L376.34,446.48 L374.12,448.54 L371.83,450.53 L369.47,452.42 L367.04,454.24 L364.53,455.96 L361.96,457.60 L359.32,459.14 L356.63,460.59 L353.87,461.95 L351.05,463.22 L348.17,464.38 L345.24,465.45 L342.26,466.42 L339.22,467.30 L336.13,468.07 L332.99,468.74 L329.80,469.31 L326.55,469.77 L323.23,470.13 L319.85,470.39 L316.35,470.55 L312.55,470.60 L308.75,470.55 L305.25,470.39 L301.87,470.13 L298.55,469.77 L295.30,469.31 L292.11,468.74 L288.97,468.07 L285.88,467.30 L282.84,466.42 L279.86,465.45 L276.93,464.38 L274.05,463.22 L271.23,461.95 L268.47,460.59 L265.78,459.14 L263.14,457.60 L260.57,455.96 L258.06,454.24 L255.63,452.42 L253.27,450.53 L250.98,448.54 L248.76,446.48 L246.63,444.33 L244.57,442.11 L242.60,439.81 L240.71,437.44 L238.90,435.00 L237.18,432.48 L235.55,429.90 L234.01,427.26 L232.57,424.55 L231.21,421.78 L229.95,418.95 L228.79,416.06 L227.73,413.12 L226.76,410.12 L225.89,407.07 L225.12,403.97 L224.46,400.82 L223.89,397.61 L223.43,394.35 L223.06,391.03 L222.81,387.62 L222.65,384.11 L222.60,380.30 L222.65,376.49 L222.81,372.98 L223.06,369.57 L223.43,366.25 L223.89,362.99 L224.46,359.78 L225.12,356.63 L225.89,353.53 L226.76,350.48 L227.73,347.48 L228.79,344.54 L229.95,341.65 L231.21,338.82 L232.57,336.05 L234.01,333.34 L235.55,330.70 L237.18,328.12 L238.90,325.60 L240.71,323.16 L242.60,320.79 L244.57,318.49 L246.63,316.27 L248.76,314.12 L250.98,312.06 L253.27,310.07 L255.63,308.18 L258.06,306.36 L260.57,304.64 L263.14,303.00 L265.78,301.46 L268.47,300.01 L271.23,298.65 L274.05,297.38 L276.93,296.22 L279.86,295.15 L282.84,294.18 L285.88,293.30 L288.97,292.53 L292.11,291.86 L295.30,291.29 L298.55,290.83 L301.87,290.47 L305.25,290.21 L308.75,290.05 L312.55,290.00 L316.35,290.05 L319.85,290.21 L323.23,290.47 L326.55,290.83 L329.80,291.29 L332.99,291.86 L336.13,292.53 L339.22,293.30 L342.26,294.18 L345.24,295.15 L348.17,296.22 L351.05,297.38 L353.87,298.65 L356.63,300.01 L359.32,301.46 L361.96,303.00 L364.53,304.64 L367.04,306.36 L369.47,308.18 L371.83,310.07 L374.12,312.06 L376.34,314.12 L378.47,316.27 L380.53,318.49 L382.50,320.79 L384.39,323.16 L386.20,325.60 L387.92,328.12 L389.55,330.70 L391.09,333.34 L392.53,336.05 L393.89,338.82 L395.15,341.65 L396.31,344.54 L397.37,347.48 L398.34,350.48 L399.21,353.53 L399.98,356.63 L400.64,359.78 L401.21,362.99 L401.67,366.25 L402.04,369.57 L402.29,372.98 L402.45,376.49 Z" fill="#bea6dc"/>
<path d="M400.70,380.30 L400.65,384.03 L400.50,387.48 L400.24,390.81 L399.89,394.07 L399.44,397.27 L398.88,400.41 L398.23,403.50 L397.47,406.54 L396.62,409.53 L395.68,412.46 L394.63,415.35 L393.49,418.18 L392.26,420.95 L390.93,423.67 L389.51,426.32 L388.01,428.91 L386.41,431.44 L384.73,433.91 L382.96,436.30 L381.10,438.63 L379.17,440.88 L377.15,443.06 L375.06,445.16 L372.89,447.18 L370.65,449.13 L368.33,450.99 L365.95,452.76 L363.49,454.45 L360.97,456.06 L358.39,457.57 L355.74,458.99 L353.04,460.33 L350.28,461.56 L347.46,462.71 L344.59,463.76 L341.66,464.71 L338.69,465.56 L335.66,466.32 L332.58,466.97 L329.45,467.53 L326.27,467.99 L323.02,468.34 L319.70,468.60 L316.27,468.75 L312.55,468.80 L308.83,468.75 L305.40,468.60 L302.08,468.34 L298.83,467.99 L295.65,467.53 L292.52,466.97 L289.44,466.32 L286.41,465.56 L283.44,464.71 L280.51,463.76 L277.64,462.71 L274.82,461.56 L272.06,460.33 L269.36,458.99 L266.71,457.57 L264.13,456.06 L261.61,454.45 L259.15,452.76 L256.77,450.99 L254.45,449.13 L252.21,447.18 L250.04,445.16 L247.95,443.06 L245.93,440.88 L244.00,438.63 L242.14,436.30 L240.37,433.91 L238.69,431.44 L237.09,428.91 L235.59,426.32 L234.17,423.67 L232.84,420.95 L231.61,418.18 L230.47,415.35 L229.42,412.46 L228.48,409.53 L227.63,406.54 L226.87,403.50 L226.22,400.41 L225.66,397.27 L225.21,394.07 L224.86,390.81 L224.60,387.48 L224.45,384.03 L224.40,380.30 L224.45,376.57 L224.60,373.12 L224.86,369.79 L225.21,366.53 L225.66,363.33 L226.22,360.19 L226.87,357.10 L227.63,354.06 L228.48,351.07 L229.42,348.14 L230.47,345.25 L231.61,342.42 L232.84,339.65 L234.17,336.93 L235.59,334.28 L237.09,331.69 L238.69,329.16 L240.37,326.69 L242.14,324.30 L244.00,321.97 L245.93,319.72 L247.95,317.54 L250.04,315.44 L252.21,313.42 L254.45,311.47 L256.77,309.61 L259.15,307.84 L261.61,306.15 L264.13,304.54 L266.71,303.03 L269.36,301.61 L272.06,300.27 L274.82,299.04 L277.64,297.89 L280.51,296.84 L283.44,295.89 L286.41,295.04 L289.44,294.28 L292.52,293.63 L295.65,293.07 L298.83,292.61 L302.08,292.26 L305.40,292.00 L308.83,291.85 L312.55,291.80 L316.27,291.85 L319.70,292.00 L323.02,292.26 L326.27,292.61 L329.45,293.07 L332.58,293.63 L335.66,294.28 L338.69,295.04 L341.66,295.89 L344.59,296.84 L347.46,297.89 L350.28,299.04 L353.04,300.27 L355.74,301.61 L358.39,303.03 L360.97,304.54 L363.49,306.15 L365.95,307.84 L368.33,309.61 L370.65,311.47 L372.89,313.42 L375.06,315.44 L377.15,317.54 L379.17,319.72 L381.10,321.97 L382.96,324.30 L384.73,326.69 L386.41,329.16 L388.01,331.69 L389.51,334.28 L390.93,336.93 L392.26,339.65 L393.49,342.42 L394.63,345.25 L395.68,348.14 L396.62,351.07 L397.47,354.06 L398.23,357.10 L398.88,360.19 L399.44,363.33 L399.89,366.53 L400.24,369.79 L400.50,373.12 L400.65,376.57 Z" fill="#7d5faa"/>
<path d="M293.77,477.19 L290.72,476.66 L287.72,476.04 L284.76,475.33 L281.85,474.54 L278.98,473.67 L276.15,472.72 L273.37,471.68 L270.63,470.56 L267.94,469.36 L265.30,468.09 L262.71,466.73 L260.17,465.30 L257.69,463.79 L255.26,462.20 L252.88,460.54 L250.57,458.81 L248.31,457.01 L246.12,455.14 L243.98,453.19 L241.92,451.19 L239.91,449.11 L237.98,446.97 L236.11,444.77 L234.32,442.50 L232.59,440.18 L230.94,437.80 L229.36,435.36 L227.85,432.87 L226.43,430.32 L225.08,427.72 L223.80,425.07 L222.61,422.37 L221.50,419.62 L220.46,416.83 L219.51,413.99 L218.64,411.11 L217.86,408.19 L217.16,405.22 L216.54,402.20 L216.00,399.15" fill="none" stroke="#4a8040" stroke-width="1.1" stroke-opacity="0.75"/>
</g>
<circle cx="314.8" cy="381.3" r="64" fill="url(#spot)"/>
<line x1="220.5" y1="470.4" x2="240.6" y2="470.4" stroke="#fff" stroke-width="3" />
<line x1="487.8" y1="261.7" x2="487.8" y2="457.7" stroke="#444141" stroke-width="1.6" />
<line x1="481" y1="457.7" x2="683.6" y2="457.7" stroke="#444141" stroke-width="1.6" />
<line x1="481" y1="457.6" x2="487.8" y2="457.6" stroke="#444141" stroke-width="1.6" />
<line x1="481" y1="392.3" x2="487.8" y2="392.3" stroke="#444141" stroke-width="1.6" />
<line x1="481" y1="327.0" x2="487.8" y2="327.0" stroke="#444141" stroke-width="1.6" />
<line x1="481" y1="261.70000000000005" x2="487.8" y2="261.70000000000005" stroke="#444141" stroke-width="1.6" />
<line x1="503.9" y1="457.7" x2="503.9" y2="464.3" stroke="#444141" stroke-width="1.6" />
<line x1="544.8499999999999" y1="457.7" x2="544.8499999999999" y2="464.3" stroke="#444141" stroke-width="1.6" />
<line x1="585.8" y1="457.7" x2="585.8" y2="464.3" stroke="#444141" stroke-width="1.6" />
<line x1="626.75" y1="457.7" x2="626.75" y2="464.3" stroke="#444141" stroke-width="1.6" />
<line x1="667.6999999999999" y1="457.7" x2="667.6999999999999" y2="464.3" stroke="#444141" stroke-width="1.6" />
<text x="454.34" y="268.51" font-size="19.5" fill="#231f20" stroke="#231f20" textLength="22.14" lengthAdjust="spacingAndGlyphs">30</text>
<text x="454.40" y="334.71" font-size="19.5" fill="#231f20" stroke="#231f20" textLength="22.07" lengthAdjust="spacingAndGlyphs">20</text>
<text x="455.46" y="400.21" font-size="19.5" fill="#231f20" stroke="#231f20" textLength="20.97" lengthAdjust="spacingAndGlyphs">10</text>
<text x="465.48" y="464.81" font-size="19.5" fill="#231f20" stroke="#231f20" textLength="11.63" lengthAdjust="spacingAndGlyphs">0</text>
<text x="480.56" y="481.61" font-size="19.5" fill="#231f20" stroke="#231f20" textLength="32.18" lengthAdjust="spacingAndGlyphs">−30</text>
<text x="521.46" y="481.61" font-size="19.5" fill="#231f20" stroke="#231f20" textLength="32.34" lengthAdjust="spacingAndGlyphs">−15</text>
<text x="580.32" y="481.61" font-size="19.5" fill="#231f20" stroke="#231f20" textLength="11.05" lengthAdjust="spacingAndGlyphs">0</text>
<text x="616.13" y="481.61" font-size="19.5" fill="#231f20" stroke="#231f20" textLength="21.48" lengthAdjust="spacingAndGlyphs">15</text>
<text x="656.54" y="481.61" font-size="19.5" fill="#231f20" stroke="#231f20" textLength="22.24" lengthAdjust="spacingAndGlyphs">30</text>
<line x1="584.4" y1="263.2" x2="584.4" y2="461" stroke="#222" stroke-width="1.0" />
<path d="M488.00,314.50 C488.87,315.35 490.97,317.90 493.20,319.60 C495.43,321.30 498.67,322.65 501.40,324.70 C504.13,326.75 506.87,328.82 509.60,331.90 C512.33,334.98 515.23,338.58 517.80,343.20 C520.37,347.82 523.28,354.90 525.00,359.60 C526.72,364.30 526.40,366.35 528.10,371.40 C529.80,376.45 532.47,383.92 535.20,389.90 C537.93,395.88 541.25,401.83 544.50,407.30 C547.75,412.77 550.95,417.75 554.70,422.70 C558.45,427.65 563.75,432.90 567.00,437.00 C570.25,441.10 572.22,444.83 574.20,447.30 C576.18,449.77 577.53,451.18 578.90,451.80 C580.27,452.42 581.33,451.48 582.40,451.00 C583.47,450.52 584.17,448.90 585.30,448.90 C586.43,448.90 587.87,450.42 589.20,451.00 C590.53,451.58 591.93,452.85 593.30,452.40 C594.67,451.95 595.52,450.52 597.40,448.30 C599.28,446.08 601.68,442.68 604.60,439.10 C607.52,435.52 611.48,431.25 614.90,426.80 C618.32,422.35 621.87,417.53 625.10,412.40 C628.33,407.27 631.57,401.47 634.30,396.00 C637.03,390.53 638.93,385.67 641.50,379.60 C644.07,373.53 647.30,364.98 649.70,359.60 C652.10,354.22 653.50,350.72 655.90,347.30 C658.30,343.88 661.37,341.32 664.10,339.10 C666.83,336.88 669.73,335.53 672.30,334.00 C674.87,332.47 677.45,331.62 679.50,329.90 C681.55,328.18 683.75,324.73 684.60,323.70" fill="none" stroke="#3a55a4" stroke-width="2.3"/>
<path d="M493.20,457.10 C494.92,456.83 500.08,456.62 503.50,455.50 C506.92,454.38 510.63,453.13 513.70,450.40 C516.77,447.67 519.50,444.07 521.90,439.10 C524.30,434.13 526.22,427.43 528.10,420.60 C529.98,413.77 531.67,405.27 533.20,398.10 C534.73,390.93 535.93,384.02 537.30,377.60 C538.67,371.18 539.87,366.37 541.40,359.60 C542.93,352.83 544.62,344.18 546.50,337.00 C548.38,329.82 550.98,321.62 552.70,316.50 C554.42,311.38 555.50,308.52 556.80,306.30 C558.10,304.08 559.30,303.20 560.50,303.20 C561.70,303.20 562.92,304.08 564.00,306.30 C565.08,308.52 565.98,310.70 567.00,316.50 C568.02,322.30 569.07,330.23 570.10,341.10 C571.13,351.97 572.17,369.13 573.20,381.70 C574.23,394.27 575.57,408.98 576.30,416.50 C577.03,424.02 577.02,424.23 577.60,426.80 C578.18,429.37 578.88,431.57 579.80,431.90 C580.72,432.23 582.03,429.48 583.10,428.80 C584.17,428.12 585.18,427.87 586.20,427.80 C587.22,427.73 588.35,428.57 589.20,428.40 C590.05,428.23 590.62,429.47 591.30,426.80 C591.98,424.13 592.62,419.23 593.30,412.40 C593.98,405.57 594.72,394.60 595.40,385.80 C596.08,377.00 596.55,368.42 597.40,359.60 C598.25,350.78 599.47,340.42 600.50,332.90 C601.53,325.38 602.57,318.93 603.60,314.50 C604.63,310.07 605.68,307.92 606.70,306.30 C607.72,304.68 608.68,304.47 609.70,304.80 C610.72,305.13 611.60,306.00 612.80,308.30 C614.00,310.60 615.37,313.82 616.90,318.60 C618.43,323.38 620.28,330.52 622.00,337.00 C623.72,343.48 625.83,351.08 627.20,357.50 C628.57,363.92 628.83,368.40 630.20,375.50 C631.57,382.60 633.52,392.23 635.40,400.10 C637.28,407.97 639.12,415.87 641.50,422.70 C643.88,429.53 646.97,436.32 649.70,441.10 C652.43,445.88 654.82,448.93 657.90,451.40 C660.98,453.87 664.78,454.95 668.20,455.90 C671.62,456.85 676.70,456.90 678.40,457.10" fill="none" stroke="#62bd4b" stroke-width="2.3"/>
<path d="M545.50,457.10 C546.70,456.67 550.48,455.97 552.70,454.50 C554.92,453.03 557.10,451.22 558.80,448.30 C560.50,445.38 561.70,441.62 562.90,437.00 C564.10,432.38 564.97,427.43 566.00,420.60 C567.03,413.77 568.25,403.52 569.10,396.00 C569.95,388.48 570.42,382.33 571.10,375.50 C571.78,368.67 572.52,363.47 573.20,355.00 C573.88,346.53 574.52,332.32 575.20,324.70 C575.88,317.08 576.55,312.20 577.30,309.30 C578.05,306.40 579.02,307.12 579.70,307.30 C580.38,307.48 580.82,308.70 581.40,310.40 C581.98,312.10 582.58,317.17 583.20,317.50 C583.82,317.83 584.27,315.02 585.10,312.40 C585.93,309.78 587.17,302.65 588.20,301.80 C589.23,300.95 590.45,304.17 591.30,307.30 C592.15,310.43 592.62,314.97 593.30,320.60 C593.98,326.23 594.80,334.60 595.40,341.10 C596.00,347.60 596.38,353.87 596.90,359.60 C597.42,365.33 597.90,368.75 598.50,375.50 C599.10,382.25 599.65,391.55 600.50,400.10 C601.35,408.65 602.40,419.62 603.60,426.80 C604.80,433.98 606.00,438.93 607.70,443.20 C609.40,447.47 611.23,450.10 613.80,452.40 C616.37,454.70 621.55,456.23 623.10,457.00" fill="none" stroke="#e8302a" stroke-width="2.3"/>
<text x="525.06" y="507.50" font-size="19.5" fill="#231f20" stroke="#231f20" textLength="121.70" lengthAdjust="spacingAndGlyphs">Distance (mm)</text>
<text x="0" y="0" font-size="19.5" fill="#231f20" stroke="#231f20" transform="translate(444.90,434.07) rotate(-90)" textLength="150.86" lengthAdjust="spacingAndGlyphs">Cal. fluo. int. (AU)</text>
</svg>
</body></html>
